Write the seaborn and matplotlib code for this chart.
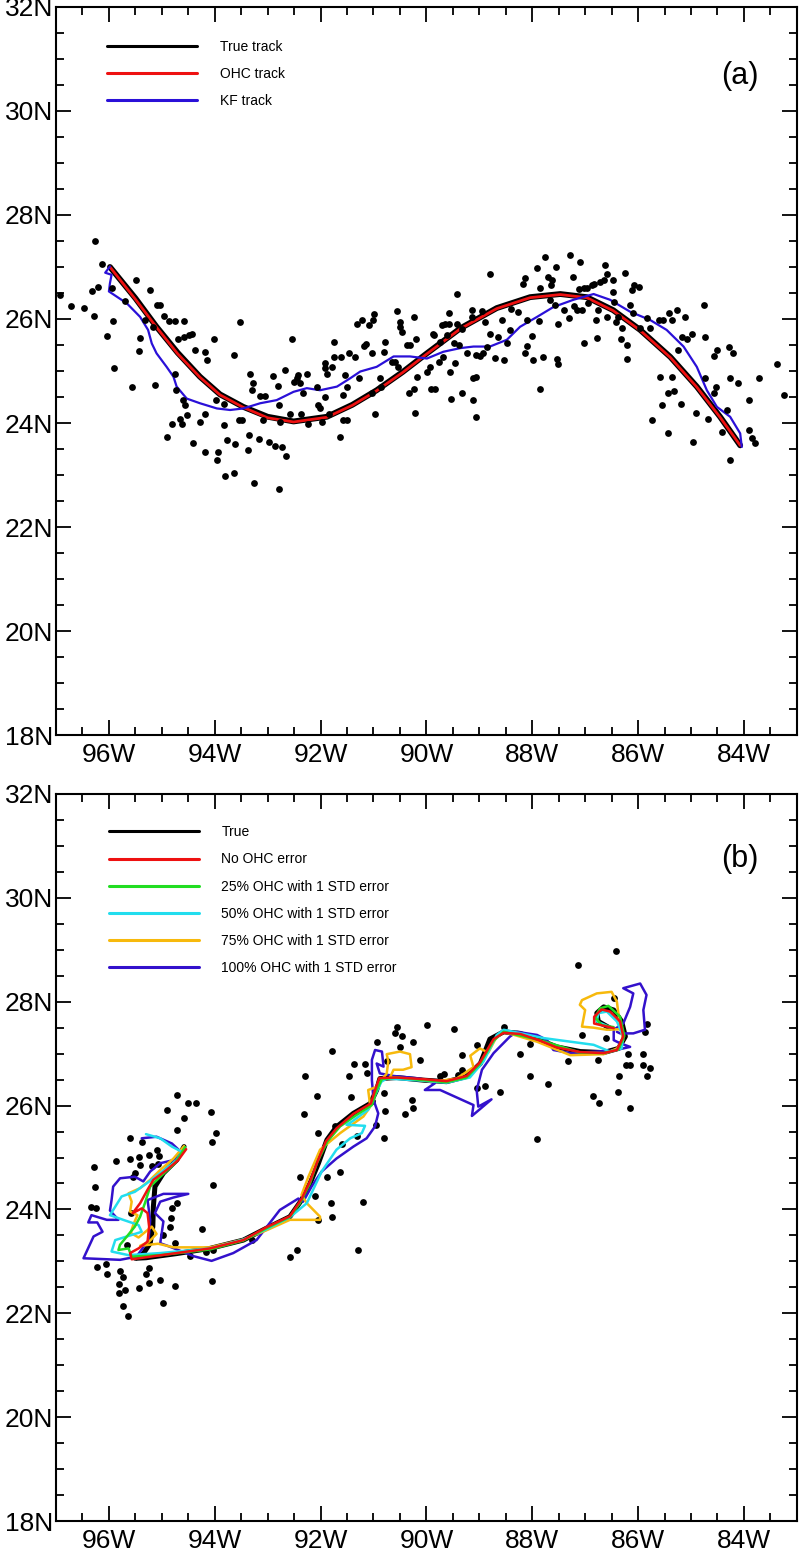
import matplotlib
matplotlib.use("Agg")
import numpy as np
import pandas as pd
import matplotlib.pyplot as plt
from matplotlib.lines import Line2D
from matplotlib.ticker import MultipleLocator, FuncFormatter
import seaborn as sns

sns.set_style("ticks")
plt.rcParams['font.family'] = ['Liberation Sans', 'DejaVu Sans']
plt.rcParams['text.color'] = 'black'
plt.rcParams['xtick.color'] = 'black'
plt.rcParams['ytick.color'] = 'black'

# ---------------- panel (a) ----------------
# observations (lon, lat)
a_dot_lon = [
    -96.26, -96.92, -96.72, -96.47, -96.29, -96.13, -96.21, -96.32, -96.04, -95.94,
    -95.92, -95.90, -95.69, -95.48, -95.23, -95.41, -95.44, -95.57, -95.12, -95.31,
    -95.16, -95.09, -95.03, -94.95, -94.87, -94.75, -94.58, -94.70, -94.59, -94.49,
    -94.43, -94.37, -94.75, -94.73, -94.90, -94.81, -94.65, -94.60, -94.56, -94.53,
    -94.62, -94.41, -94.27, -94.18, -94.15, -94.18, -94.18, -94.01, -93.97, -93.96,
    -93.93, -93.83, -93.82, -93.81, -93.77, -93.64, -93.64, -93.61, -93.52, -93.55,
    -93.49, -93.38, -93.34, -93.36, -93.28, -93.30, -93.25, -93.17, -93.15, -93.08,
    -93.05, -92.98, -92.90, -92.86, -92.81, -92.79, -92.78, -92.76, -92.73, -92.67,
    -92.65, -92.57, -92.54, -92.51, -92.45, -92.42, -92.38, -92.37, -92.33, -92.26,
    -92.23, -92.07, -92.04, -92.01, -91.97, -91.91, -91.91, -91.91, -91.88, -91.85,
    -91.79, -91.75, -91.75, -91.63, -91.61, -91.58, -91.57, -91.50, -91.53, -91.50,
    -91.47, -91.35, -91.31, -91.28, -91.22, -91.17, -91.14, -91.09, -91.00, -90.99,
    -91.03, -91.03, -90.87, -90.86, -90.97, -90.81, -90.78, -90.65, -90.59, -90.56,
    -90.53, -90.49, -90.49, -90.46, -90.37, -90.31, -90.24, -90.32, -90.24, -90.21,
    -90.19, -90.18, -89.99, -89.91, -89.86, -89.88, -89.83, -89.74, -89.71, -89.64,
    -89.61, -89.58, -89.56, -89.54, -89.42, -89.42, -89.39, -89.93, -89.77, -89.69,
    -89.58, -89.48, -89.46, -89.33, -89.33, -89.24, -89.14, -89.14, -89.12, -89.11,
    -89.06, -89.06, -89.06, -88.99, -88.95, -88.93, -88.89, -88.86, -88.80, -88.80,
    -88.70, -88.64, -88.58, -88.53, -88.47, -88.42, -88.40, -88.26, -88.18, -88.13,
    -88.13, -88.10, -88.09, -88.01, -87.98, -87.91, -87.88, -87.86, -87.85, -87.80,
    -87.76, -87.71, -87.66, -87.65, -87.63, -87.57, -87.55, -87.54, -87.52, -87.51,
    -87.40, -87.30, -87.28, -87.23, -87.21, -87.16, -87.11, -87.10, -87.06, -87.03,
    -87.03, -86.97, -86.94, -86.87, -86.83, -86.79, -86.77, -86.75, -86.72, -86.65,
    -86.62, -86.58, -86.58, -86.48, -86.48, -86.45, -86.41, -86.37, -86.33, -86.31,
    -86.24, -86.21, -86.21, -86.16, -86.12, -86.09, -86.07, -85.99, -85.96, -85.84,
    -85.77, -85.74, -85.61, -85.58, -85.55, -85.52, -85.44, -85.43, -85.41, -85.36,
    -85.36, -85.33, -85.27, -85.24, -85.19, -85.17, -85.11, -85.08, -84.98, -84.96,
    -84.90, -84.75, -84.73, -84.73, -84.67, -84.57, -84.57, -84.52, -84.50, -84.42,
    -84.32, -84.29, -84.26, -84.26, -84.20, -84.12, -83.91, -83.91, -83.85, -83.79,
    -83.72, -83.38, -83.24]
a_dot_lat = [
    27.50, 26.46, 26.25, 26.22, 26.06, 27.05, 26.62, 26.54, 25.68, 26.60,
    25.96, 25.05, 26.35, 26.75, 26.55, 25.64, 25.38, 24.70, 24.73, 25.98,
    25.85, 26.27, 26.27, 26.06, 25.96, 25.96, 25.96, 25.62, 25.66, 25.69,
    25.71, 25.41, 24.95, 24.64, 23.73, 23.98, 24.07, 24.44, 24.34, 24.15,
    23.99, 23.61, 24.02, 25.37, 25.21, 24.18, 23.45, 25.62, 24.44, 23.28,
    23.44, 24.37, 23.96, 22.99, 23.67, 25.30, 23.03, 23.59, 25.95, 24.05,
    24.05, 23.48, 24.95, 23.77, 24.76, 24.63, 22.85, 23.70, 24.52, 24.05,
    24.52, 23.64, 24.90, 23.56, 24.71, 24.34, 22.73, 24.02, 23.54, 25.02,
    23.36, 24.17, 25.61, 24.79, 24.86, 24.92, 24.76, 24.18, 24.57, 24.94,
    23.99, 24.70, 24.34, 24.28, 24.02, 24.50, 25.16, 25.05, 24.95, 24.18,
    25.08, 25.56, 25.27, 23.73, 25.27, 24.05, 24.53, 24.05, 24.92, 24.70,
    25.34, 25.27, 25.91, 24.86, 25.98, 25.48, 25.52, 25.88, 25.98, 26.09,
    25.34, 24.57, 24.86, 24.70, 24.18, 25.37, 25.56, 25.18, 25.18, 26.16,
    25.08, 25.95, 25.85, 25.75, 25.50, 25.50, 26.03, 24.57, 24.66, 24.20,
    25.62, 24.89, 24.98, 24.66, 25.69, 25.72, 24.66, 25.56, 25.88, 25.91,
    25.69, 26.12, 24.98, 24.47, 26.49, 25.91, 25.50, 25.08, 25.18, 25.27,
    25.90, 25.54, 25.16, 25.80, 24.58, 25.34, 26.17, 26.04, 24.44, 24.86,
    24.88, 24.12, 25.30, 25.28, 26.16, 25.34, 25.95, 25.46, 26.86, 25.72,
    25.25, 25.66, 25.99, 25.22, 25.54, 25.78, 26.20, 26.14, 26.68, 26.78,
    25.35, 25.98, 25.48, 25.67, 25.21, 26.99, 25.96, 24.66, 26.59, 25.26,
    27.19, 26.81, 26.36, 26.66, 26.75, 26.27, 27.00, 25.24, 25.13, 25.91,
    26.18, 26.01, 27.23, 26.81, 26.25, 26.17, 26.57, 27.10, 26.17, 25.54,
    26.59, 26.59, 26.30, 26.65, 26.68, 25.98, 25.64, 26.17, 26.71, 26.75,
    27.03, 26.87, 26.03, 26.52, 26.75, 26.33, 25.95, 26.04, 25.62, 25.82,
    26.89, 25.50, 25.24, 26.27, 26.55, 26.11, 26.65, 26.62, 25.82, 26.01,
    25.82, 24.05, 25.99, 24.89, 24.34, 25.98, 24.57, 23.81, 26.11, 25.98,
    24.89, 24.62, 26.18, 25.40, 24.36, 25.66, 26.03, 25.62, 25.72, 23.64,
    24.20, 26.27, 25.66, 24.86, 24.07, 25.29, 24.58, 24.70, 25.40, 23.83,
    24.25, 25.46, 23.29, 24.86, 25.35, 24.76, 24.44, 23.87, 23.72, 23.62,
    24.86, 25.13, 24.54]

true_a_lon = [-95.98, -95.50, -95.10, -94.70, -94.28, -93.90, -93.46, -93.00, -92.51, -91.88,
              -91.40, -90.94, -90.45, -89.99, -89.36, -88.67, -88.04, -87.47, -86.97, -86.47,
              -85.96, -85.39, -84.89, -84.45, -84.07]
true_a_lat = [27.00, 26.40, 25.85, 25.35, 24.89, 24.55, 24.31, 24.12, 24.03, 24.12,
              24.35, 24.63, 24.98, 25.34, 25.82, 26.21, 26.42, 26.48, 26.42, 26.17,
              25.79, 25.27, 24.70, 24.12, 23.57]
ohc_a_lat = [27.00, 26.38, 25.84, 25.33, 24.88, 24.54, 24.30, 24.10, 24.02, 24.11,
             24.34, 24.62, 24.97, 25.33, 25.81, 26.20, 26.41, 26.47, 26.41, 26.16,
             25.78, 25.26, 24.69, 24.11, 23.57]

kf_a_lon = [-95.98, -96.07, -95.95, -95.98, -96.00, -95.66, -95.41, -95.26, -95.19, -95.10,
            -94.91, -94.78, -94.72, -94.53, -94.28, -93.96, -93.71, -93.46, -93.14, -92.83,
            -92.51, -92.26, -92.01, -91.69, -91.44, -91.25, -90.94, -90.62, -90.31, -89.99,
            -89.68, -89.36, -89.11, -88.80, -88.48, -88.23, -87.91, -87.60, -87.22, -86.84,
            -86.53, -86.15, -85.77, -85.46, -85.14, -84.89, -84.70, -84.51, -84.26, -84.07,
            -84.04]
kf_a_lat = [27.01, 26.89, 26.85, 26.69, 26.53, 26.30, 26.04, 25.79, 25.53, 25.34,
            25.08, 24.89, 24.70, 24.47, 24.38, 24.28, 24.25, 24.28, 24.38, 24.44,
            24.60, 24.67, 24.63, 24.70, 24.86, 24.99, 25.08, 25.28, 25.28, 25.24,
            25.37, 25.44, 25.47, 25.47, 25.60, 25.85, 26.04, 26.23, 26.37, 26.48,
            26.37, 26.14, 25.98, 25.79, 25.47, 25.08, 24.63, 24.31, 24.12, 23.80,
            23.54]

# ---------------- panel (b) ----------------
b_dot_lon = [
    -94.71, -94.50, -94.35, -94.91, -94.08, -94.59, -94.71, -93.98, -95.60, -95.38,
    -94.06, -95.10, -95.87, -95.60, -95.44, -95.42, -95.25, -95.05, -95.19, -95.08,
    -96.29, -95.51, -95.55, -96.26, -94.04, -96.33, -96.24, -94.71, -94.81, -94.83,
    -95.59, -94.84, -94.25, -94.97, -93.30, -94.75, -95.66, -94.04, -94.47, -94.16,
    -96.23, -96.05, -96.04, -95.79, -95.73, -95.25, -95.29, -95.24, -95.03, -95.80,
    -95.70, -95.44, -95.80, -94.75, -94.06, -95.73, -94.98, -95.63,
    -90.56, -90.59, -90.47, -89.98, -89.48, -90.94, -90.25, -91.78, -90.50, -90.13,
    -89.33, -89.04, -91.37, -91.16, -91.13, -91.46, -92.29, -90.75, -89.67, -89.74,
    -89.33, -89.40, -92.06, -91.42, -90.81, -90.28, -90.25, -90.41, -90.79, -92.31,
    -89.04, -88.89, -91.03, -90.95, -91.73, -92.04, -91.32, -90.81, -91.60, -91.63,
    -92.39, -91.87, -92.10, -91.81, -91.20, -91.79, -92.04, -92.44, -92.58, -91.29,
    -86.42, -87.13, -86.45, -88.54, -87.06, -86.60, -88.04, -88.24, -87.32, -86.75,
    -86.19, -85.90, -86.23, -86.16, -85.91, -85.78, -86.36, -85.84, -88.04, -87.71,
    -88.61, -86.37, -86.86, -86.73, -86.16, -87.91, -85.84, -85.87]
b_dot_lat = [
    26.20, 26.04, 26.04, 25.91, 25.88, 25.77, 25.53, 25.48, 25.38, 25.30,
    25.30, 25.15, 24.94, 24.98, 25.01, 24.86, 25.04, 25.02, 24.84, 24.88,
    24.82, 24.70, 24.62, 24.44, 24.48, 24.05, 24.03, 24.13, 24.02, 23.83,
    23.93, 23.66, 23.63, 23.51, 23.41, 23.35, 23.31, 23.21, 23.10, 23.19,
    22.90, 22.95, 22.76, 22.81, 22.69, 22.88, 22.76, 22.59, 22.65, 22.56,
    22.45, 22.48, 22.39, 22.53, 22.63, 22.15, 22.19, 21.94,
    27.51, 27.39, 27.34, 27.55, 27.47, 27.22, 27.23, 27.06, 27.12, 26.88,
    26.97, 27.17, 26.80, 26.80, 26.62, 26.57, 26.57, 26.85, 26.61, 26.57,
    26.69, 26.59, 26.18, 26.17, 26.24, 26.10, 25.95, 25.83, 25.90, 25.83,
    26.33, 26.38, 26.08, 25.63, 25.61, 25.48, 25.42, 25.38, 25.26, 24.73,
    24.62, 24.62, 24.25, 24.12, 24.14, 23.86, 23.80, 23.22, 23.09, 23.22,
    28.98, 28.70, 28.08, 27.52, 27.36, 27.31, 27.18, 26.99, 26.86, 26.88,
    26.99, 26.99, 26.78, 26.78, 26.78, 26.73, 26.57, 26.57, 26.57, 26.42,
    26.27, 26.27, 26.18, 26.04, 25.96, 25.35, 27.58, 27.41]

true_b_lon = [-94.58, -94.72, -94.97, -95.13, -95.16, -95.17, -95.22, -95.35, -95.50, -95.30,
              -94.72, -94.09, -93.46, -93.02, -92.58, -92.36, -92.20, -92.04, -91.88, -91.70,
              -91.38, -91.06, -90.94, -90.88, -90.56, -90.06, -89.62, -89.24, -88.98, -88.80,
              -88.54, -88.23, -87.85, -87.54, -87.09, -86.65, -86.37, -86.24, -86.31, -86.46,
              -86.65, -86.78, -86.75, -86.53]
true_b_lat = [25.21, 24.95, 24.70, 24.44, 24.05, 23.67, 23.35, 23.15, 23.06, 23.07,
              23.15, 23.25, 23.41, 23.64, 23.86, 24.18, 24.50, 24.89, 25.34, 25.59,
              25.85, 26.04, 26.30, 26.52, 26.54, 26.49, 26.46, 26.56, 26.81, 27.28,
              27.42, 27.39, 27.26, 27.13, 27.04, 27.02, 27.10, 27.33, 27.62, 27.84,
              27.90, 27.78, 27.62, 27.49]

noerr_b_lon = [-94.54, -94.69, -94.91, -95.16, -95.27, -95.41, -95.55, -95.38, -95.27, -95.24,
               -95.27, -95.44, -95.60, -95.57, -95.29, -94.72, -94.09, -93.46, -93.02, -92.58,
               -92.36, -92.20, -92.06, -91.90, -91.70, -91.38, -91.05, -90.97, -90.89, -90.56,
               -90.06, -89.62, -89.24, -88.99, -88.73, -88.54, -88.23, -87.85, -87.54, -87.09,
               -86.65, -86.40, -86.28, -86.34, -86.53, -86.69, -86.83, -86.83, -86.46]
noerr_b_lat = [25.16, 24.95, 24.76, 24.57, 24.38, 24.12, 23.93, 24.02, 23.93, 23.67,
               23.38, 23.25, 23.16, 23.04, 23.08, 23.16, 23.25, 23.41, 23.66, 23.87,
               24.20, 24.54, 24.92, 25.31, 25.56, 25.84, 26.04, 26.30, 26.53, 26.54,
               26.51, 26.47, 26.57, 26.83, 27.28, 27.40, 27.38, 27.25, 27.12, 27.03,
               27.01, 27.07, 27.33, 27.62, 27.81, 27.85, 27.71, 27.58, 27.49]

p25_b_lon = [-94.56, -94.75, -95.03, -95.22, -95.32, -95.41, -95.51, -95.66, -95.79, -95.82,
             -95.63, -95.57, -95.03, -94.09, -93.46, -93.02, -92.58, -92.39, -92.20, -92.07,
             -92.01, -91.87, -91.63, -91.32, -91.03, -90.94, -90.84, -90.56, -90.06, -89.62,
             -89.24, -88.99, -88.73, -88.54, -87.85, -87.09, -86.65, -86.37, -86.26, -86.34,
             -86.56, -86.72, -86.81, -86.69, -86.46]
p25_b_lat = [25.20, 24.89, 24.63, 24.44, 24.12, 23.86, 23.67, 23.48, 23.32, 23.22,
             23.25, 23.09, 23.12, 23.23, 23.40, 23.64, 23.86, 24.12, 24.50, 24.89,
             25.02, 25.31, 25.60, 25.82, 26.01, 26.30, 26.51, 26.54, 26.49, 26.45,
             26.54, 26.80, 27.25, 27.42, 27.26, 27.02, 27.01, 27.08, 27.34, 27.71,
             27.92, 27.87, 27.70, 27.55, 27.51]

p50_b_lon = [-95.30, -95.03, -94.81, -94.62, -94.72, -95.03, -95.29, -95.51, -95.76, -95.98,
             -95.73, -95.44, -95.38, -95.66, -95.88, -95.95, -95.63, -95.03, -94.09, -93.46,
             -93.02, -92.58, -92.26, -91.98, -91.70, -91.44, -91.22, -91.16, -91.51, -91.41,
             -91.10, -90.97, -90.85, -90.75, -90.06, -89.62, -89.18, -88.92, -88.67, -88.54,
             -87.79, -86.84, -86.53, -86.31, -86.28, -86.40, -86.59, -86.75, -86.78, -86.53]
p50_b_lat = [25.45, 25.37, 25.21, 25.11, 24.95, 24.70, 24.50, 24.34, 24.25, 23.89,
             23.80, 23.70, 23.57, 23.48, 23.41, 23.19, 23.12, 23.16, 23.25, 23.42,
             23.62, 23.85, 24.12, 24.73, 25.15, 25.37, 25.47, 25.61, 25.63, 25.69,
             25.92, 26.20, 26.46, 26.52, 26.48, 26.44, 26.54, 26.85, 27.36, 27.46,
             27.30, 27.17, 27.04, 27.10, 27.33, 27.62, 27.81, 27.78, 27.62, 27.51]

p75_b_lon = [-94.58, -94.78, -95.03, -95.22, -95.41, -95.63, -95.57, -95.60, -95.46, -95.53,
             -95.59, -95.44, -95.19, -95.10, -95.24, -95.41, -95.07, -94.78, -94.09, -93.46,
             -93.02, -92.58, -92.01, -92.01, -92.26, -92.36, -92.23, -92.01, -91.63, -91.19,
             -91.06, -91.10, -90.94, -90.75, -90.72, -90.75, -90.50, -90.31, -90.28, -90.44,
             -90.62, -90.69, -90.37, -89.87, -89.43, -89.11, -89.17, -88.99, -88.83, -88.67,
             -88.54, -87.91, -87.28, -86.65, -86.40, -86.28, -86.34, -86.40, -86.50, -86.78,
             -87.06, -87.10, -87.00, -87.03, -87.06, -86.84, -86.59, -86.34]
p75_b_lat = [25.22, 24.98, 24.76, 24.57, 24.41, 24.31, 24.15, 23.96, 23.89, 23.73,
             23.55, 23.46, 23.67, 23.53, 23.38, 23.30, 23.34, 23.27, 23.27, 23.42,
             23.60, 23.80, 23.80, 23.86, 24.12, 24.28, 24.63, 25.15, 25.47, 25.79,
             25.98, 26.30, 26.36, 26.62, 26.85, 26.99, 27.04, 26.99, 26.74, 26.69,
             26.69, 26.54, 26.52, 26.46, 26.52, 26.74, 26.96, 27.10, 27.02, 27.33,
             27.42, 27.23, 26.97, 26.99, 27.10, 27.26, 27.52, 28.00, 28.19, 28.16,
             28.03, 27.94, 27.84, 27.68, 27.52, 27.50, 27.46, 27.47]

p100_b_lon = [-95.38, -95.10, -94.81, -94.64, -94.78, -95.03, -95.22, -95.35, -95.51, -95.79,
              -95.92, -95.95, -95.98, -95.82, -96.04, -96.33, -96.39, -96.22, -96.12, -96.29,
              -96.48, -95.79, -95.48, -95.25, -95.22, -95.27, -94.97, -94.50, -94.78, -95.03,
              -95.13, -94.97, -95.03, -94.84, -94.40, -94.06, -93.65, -93.21, -92.77, -92.42,
              -92.33, -92.17, -91.98, -91.70, -91.38, -91.13, -90.97, -90.91, -91.00, -91.03,
              -91.03, -90.97, -90.84, -90.81, -90.94, -90.88, -90.62, -90.12, -89.84, -90.03,
              -89.74, -89.11, -89.14, -88.77, -89.02, -89.05, -88.95, -88.73, -88.42, -88.29,
              -87.91, -87.72, -87.60, -87.28, -86.78, -86.46, -86.15, -86.34, -86.46, -86.46,
              -86.28, -86.15, -86.09, -86.28, -85.96, -85.84, -85.90, -85.87, -86.09, -86.34,
              -86.40]
p100_b_lat = [25.37, 25.40, 25.27, 25.11, 24.95, 24.89, 24.73, 24.54, 24.63, 24.60,
              24.44, 24.18, 23.98, 23.80, 23.80, 23.89, 23.75, 23.75, 23.57, 23.48,
              23.06, 23.03, 23.09, 23.41, 23.80, 24.18, 24.30, 24.30, 24.23, 24.15,
              23.93, 23.77, 23.35, 23.28, 23.10, 23.01, 23.16, 23.41, 23.99, 24.21,
              24.15, 24.44, 24.73, 24.98, 25.21, 25.37, 25.60, 25.85, 26.11, 26.49,
              26.88, 27.07, 27.04, 26.75, 26.81, 26.62, 26.57, 26.52, 26.43, 26.30,
              26.30, 26.01, 25.80, 26.12, 25.98, 26.30, 26.69, 27.01, 27.33, 27.42,
              27.36, 27.26, 27.07, 27.01, 27.04, 27.06, 27.13, 27.20, 27.26, 27.46,
              27.58, 27.90, 28.16, 28.26, 28.35, 28.13, 27.84, 27.46, 27.39, 27.39,
              27.42]

a_labels = ['True track', 'OHC track', 'KF track']
a_colors = ['#000000', '#ee1111', '#2a10d8']
b_labels = ['True', 'No OHC error', '25% OHC with 1 STD error', '50% OHC with 1 STD error',
            '75% OHC with 1 STD error', '100% OHC with 1 STD error']
b_colors = ['#000000', '#ee1111', '#22dd22', '#22ddee', '#f7b90c', '#3311cc']


def lon_fmt(v, pos):
    return '%dW' % abs(round(v))


def lat_fmt(v, pos):
    return '%dN' % round(v)


def style_axes(ax):
    ax.set_xlim(-97, -83)
    ax.set_ylim(18, 32)
    ax.xaxis.set_major_locator(MultipleLocator(2))
    ax.xaxis.set_minor_locator(MultipleLocator(0.5))
    ax.yaxis.set_major_locator(MultipleLocator(2))
    ax.yaxis.set_minor_locator(MultipleLocator(0.5))
    ax.xaxis.set_major_formatter(FuncFormatter(lon_fmt))
    ax.yaxis.set_major_formatter(FuncFormatter(lat_fmt))
    ax.tick_params(which='both', direction='in', top=True, right=True, width=1.3,
                   color='black', labelcolor='black')
    ax.tick_params(which='major', length=11, labelsize=19)
    ax.tick_params(which='minor', length=5.5)
    ax.tick_params(axis='x', pad=6)
    ax.tick_params(axis='y', pad=2)
    ax.set_xlabel('')
    ax.set_ylabel('')
    for s in ax.spines.values():
        s.set_linewidth(1.5)
        s.set_color('black')


def track(ax, lon, lat, color, lw, z):
    df = pd.DataFrame({'lon': lon, 'lat': lat})
    sns.lineplot(data=df, x='lon', y='lat', sort=False, estimator=None, color=color,
                 linewidth=lw, ax=ax, zorder=z)


fig = plt.figure(figsize=(8, 15.51), dpi=100)
ax_a = fig.add_axes([0.07, 0.5261, 0.926, 0.4694])
ax_b = fig.add_axes([0.07, 0.0193, 0.926, 0.4688])

# panel (a)
track(ax_a, true_a_lon, true_a_lat, 'black', 4.2, 2)
track(ax_a, true_a_lon, ohc_a_lat, '#ee1111', 2.0, 3)
track(ax_a, kf_a_lon, kf_a_lat, '#2a10d8', 1.6, 4)
sns.scatterplot(x=a_dot_lon, y=a_dot_lat, color='black', s=24, linewidth=0, ax=ax_a, zorder=5)
style_axes(ax_a)
h_a = [Line2D([], [], color=c, lw=2.2) for c in a_colors]
ax_a.legend(h_a, a_labels, loc='upper left', bbox_to_anchor=(0.069, 0.955), frameon=False,
            fontsize=10, handlelength=6.5, handletextpad=1.6, labelspacing=0.95,
            borderpad=0, borderaxespad=0, labelcolor='black')
ax_a.text(0.923, 0.905, '(a)', transform=ax_a.transAxes, fontsize=22, ha='center',
          va='center', color='black')

# panel (b)
sns.scatterplot(x=b_dot_lon, y=b_dot_lat, color='black', s=24, linewidth=0, ax=ax_b, zorder=1)
track(ax_b, true_b_lon, true_b_lat, 'black', 3.6, 2)
track(ax_b, p100_b_lon, p100_b_lat, '#3311cc', 1.8, 3)
track(ax_b, p75_b_lon, p75_b_lat, '#f7b90c', 1.8, 4)
track(ax_b, p50_b_lon, p50_b_lat, '#22ddee', 1.8, 5)
track(ax_b, p25_b_lon, p25_b_lat, '#22dd22', 1.8, 6)
track(ax_b, noerr_b_lon, noerr_b_lat, '#ee1111', 1.8, 7)
style_axes(ax_b)
h_b = [Line2D([], [], color=c, lw=2.2) for c in b_colors]
ax_b.legend(h_b, b_labels, loc='upper left', bbox_to_anchor=(0.0715, 0.957), frameon=False,
            fontsize=10, handlelength=6.5, handletextpad=1.6, labelspacing=0.95,
            borderpad=0, borderaxespad=0, labelcolor='black')
ax_b.text(0.923, 0.91, '(b)', transform=ax_b.transAxes, fontsize=22, ha='center',
          va='center', color='black')

fig.savefig('out.png', dpi=100)
